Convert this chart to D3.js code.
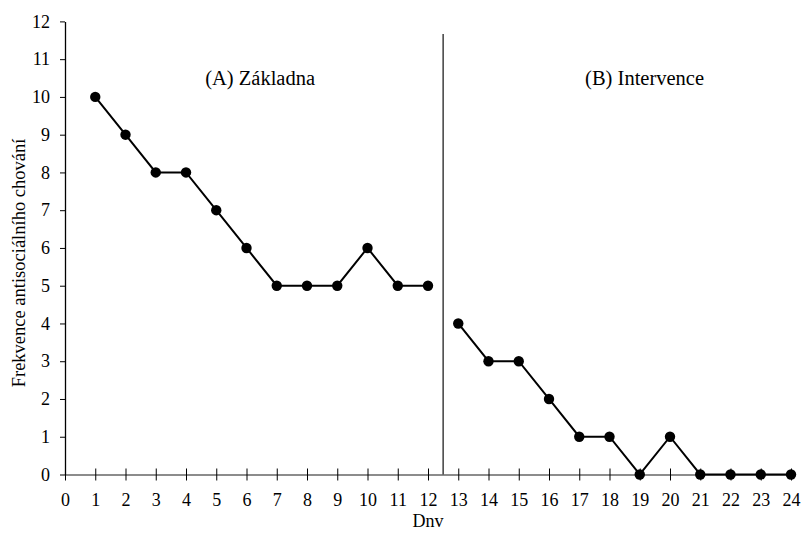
<!DOCTYPE html>
<html><head><meta charset="utf-8">
<script src="https://cdn.jsdelivr.net/npm/d3@7"></script>
<style>body{margin:0;background:#fff}svg{display:block}</style>
</head><body><svg id="c" width="801" height="535"></svg>
<script>
const daysA=[1,2,3,4,5,6,7,8,9,10,11,12];
const valuesA=[10,9,8,8,7,6,5,5,5,6,5,5];
const daysB=[13,14,15,16,17,18,19,20,21,22,23,24];
const valuesB=[4,3,3,2,1,1,0,1,0,0,0,0];
const xTicks=d3.range(0,25);
const yTicks=d3.range(0,13);
const phaseLabels=["(A) Základna","(B) Intervence"];
const phaseCenters=[6.45,19.16];
const phaseBoundary=12.5;
const FONT="Liberation Serif";

const svg=d3.select("#c");
const x=d3.scaleLinear().domain([0,24]).range([65,791]);
const y=d3.scaleLinear().domain([0,12]).range([474.5,21.4]);

const gx=svg.append("g").attr("transform",`translate(0,${y(0)})`)
  .call(d3.axisBottom(x).tickValues(xTicks).tickSize(6).tickSizeOuter(0));
gx.attr("font-family",FONT);
gx.select(".domain").attr("stroke","#666").attr("stroke-width",1.6);
gx.selectAll(".tick line").attr("y1",-6).attr("y2",6).attr("stroke","#000");
gx.selectAll("text").attr("y",31.5).attr("dy",null).style("font-family",FONT).style("font-size","18px").attr("fill","#000");

const gy=svg.append("g").attr("transform",`translate(${x(0)},0)`)
  .call(d3.axisLeft(y).tickValues(yTicks).tickSize(5).tickPadding(10).tickSizeOuter(0));
gy.attr("font-family",FONT);
gy.select(".domain").attr("stroke","#000").attr("stroke-width",1.3);
gy.selectAll(".tick line").attr("stroke","#000");
gy.selectAll("text").style("font-family",FONT).style("font-size","18px").attr("fill","#000");

svg.append("line").attr("x1",x(phaseBoundary)).attr("x2",x(phaseBoundary))
  .attr("y1",34).attr("y2",y(0)).attr("stroke","#222").attr("stroke-width",1.3);

const line=d3.line().x(d=>x(d[0])).y(d=>y(d[1]));
[[daysA,valuesA],[daysB,valuesB]].forEach(([ds,vs])=>{
  const pts=ds.map((d,i)=>[d,vs[i]]);
  svg.append("path").attr("d",line(pts)).attr("fill","none").attr("stroke","#000").attr("stroke-width",2);
  svg.selectAll(null).data(pts).enter().append("circle")
    .attr("cx",d=>x(d[0])).attr("cy",d=>y(d[1])).attr("r",5.2).attr("fill","#000");
});

phaseLabels.forEach((t,i)=>{
  svg.append("text").attr("x",x(phaseCenters[i])).attr("y",85).attr("text-anchor","middle")
    .style("font-family",FONT).style("font-size","20.5px").text(t);
});

svg.append("text").attr("x",428).attr("y",527).attr("text-anchor","middle")
  .style("font-family",FONT).style("font-size","18px").text("Dnv");
svg.append("text").attr("transform",`translate(24.5,263) rotate(-90)`).attr("text-anchor","middle")
  .style("font-family",FONT).style("font-size","18.5px").text("Frekvence antisociálního chování");
</script></body></html>
